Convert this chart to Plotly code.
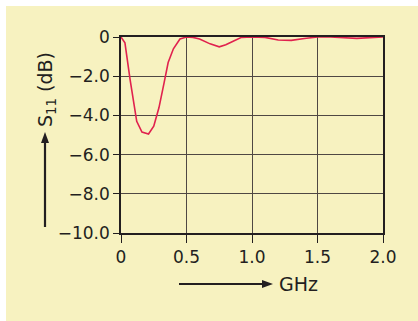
import plotly.graph_objects as go

freq_ghz = [0, 0.03, 0.07, 0.12, 0.16, 0.21, 0.25, 0.29, 0.33, 0.36, 0.40, 0.45, 0.50,
            0.55, 0.60, 0.68, 0.75, 0.80, 0.86, 0.92, 1.0, 1.1, 1.2, 1.3, 1.4, 1.5,
            1.6, 1.7, 1.8, 1.9, 2.0]
s11_db = [0, -0.3, -2.2, -4.3, -4.85, -4.95, -4.55, -3.6, -2.3, -1.3, -0.6, -0.1, 0,
          -0.02, -0.1, -0.35, -0.5, -0.4, -0.2, -0.02, 0, -0.02, -0.15, -0.17, -0.08, 0,
          0, -0.04, -0.07, -0.03, 0]
x_tickvals = [0, 0.5, 1.0, 1.5, 2.0]
x_ticktext = ["0", "0.5", "1.0", "1.5", "2.0"]
y_tickvals = [0, -2, -4, -6, -8, -10]
y_ticktext = ["0", "\u22122.0", "\u22124.0", "\u22126.0", "\u22128.0", "\u221210.0"]

W, H = 418, 321
L, R, T, B = 121, 35, 37, 88
PW, PH = W - L - R, H - T - B

def px(x):
    return (x - L) / PW

def py(y):
    return (H - B - y) / PH

YELLOW = "#F7F2C0"
PLOTBG = "#EBE1D3"
INK = "#231F20"
FONT = "DejaVu Sans, sans-serif"

fig = go.Figure()
fig.add_trace(go.Scatter(x=freq_ghz, y=s11_db, mode="lines",
                         line=dict(color="#E0224E", width=1.6), hoverinfo="skip"))

shapes = [
    dict(type="rect", xref="paper", yref="paper", x0=px(6), x1=px(418), y0=py(321), y1=py(6),
         fillcolor=YELLOW, line=dict(width=0), layer="below"),
    # y-axis arrow
    dict(type="line", xref="paper", yref="paper", x0=px(45), x1=px(45), y0=py(227), y1=py(140),
         line=dict(color=INK, width=2.2)),
    dict(type="path", xref="paper", yref="paper",
         path=f"M {px(45)} {py(132)} L {px(41)} {py(143)} L {px(49)} {py(143)} Z",
         fillcolor=INK, line=dict(width=0)),
    # x-axis arrow
    dict(type="line", xref="paper", yref="paper", x0=px(179), x1=px(263), y0=py(284), y1=py(284),
         line=dict(color=INK, width=2.2)),
    dict(type="path", xref="paper", yref="paper",
         path=f"M {px(273)} {py(284)} L {px(262)} {py(280)} L {px(262)} {py(288)} Z",
         fillcolor=INK, line=dict(width=0)),
]

fig.update_layout(
    width=W, height=H,
    margin=dict(l=L, r=R, t=T, b=B, pad=0),
    paper_bgcolor="white",
    plot_bgcolor=PLOTBG,
    showlegend=False,
    font=dict(family=FONT, size=17, color=INK),
    shapes=shapes,
    annotations=[
        dict(xref="paper", yref="paper", x=px(46), y=py(90), text="S<sub>11</sub> (dB)",
             textangle=-90, showarrow=False, font=dict(family=FONT, size=19, color=INK),
             xanchor="center", yanchor="middle"),
        dict(xref="paper", yref="paper", x=px(277), y=py(284), text="GHz",
             showarrow=False, font=dict(family=FONT, size=19, color=INK),
             xanchor="left", yanchor="middle"),
    ],
)
fig.update_xaxes(range=[0, 2.0], tickvals=x_tickvals, ticktext=x_ticktext,
                 tickfont=dict(family=FONT, size=17, color=INK),
                 showgrid=True, gridcolor="#4F4843", gridwidth=1.3,
                 showline=True, linecolor=INK, linewidth=1.5, mirror=True,
                 ticks="outside", ticklen=8, tickcolor=INK, tickwidth=1.3,
                 zeroline=False, fixedrange=True)
fig.update_yaxes(range=[-10, 0], tickvals=y_tickvals, ticktext=y_ticktext,
                 tickfont=dict(family=FONT, size=17, color=INK),
                 showgrid=True, gridcolor="#4F4843", gridwidth=1.3,
                 showline=True, linecolor=INK, linewidth=1.5, mirror=True,
                 ticks="outside", ticklen=6, tickcolor=INK, tickwidth=1.3,
                 zeroline=False, fixedrange=True)

fig.write_html("out.html", config=dict(displayModeBar=False))
